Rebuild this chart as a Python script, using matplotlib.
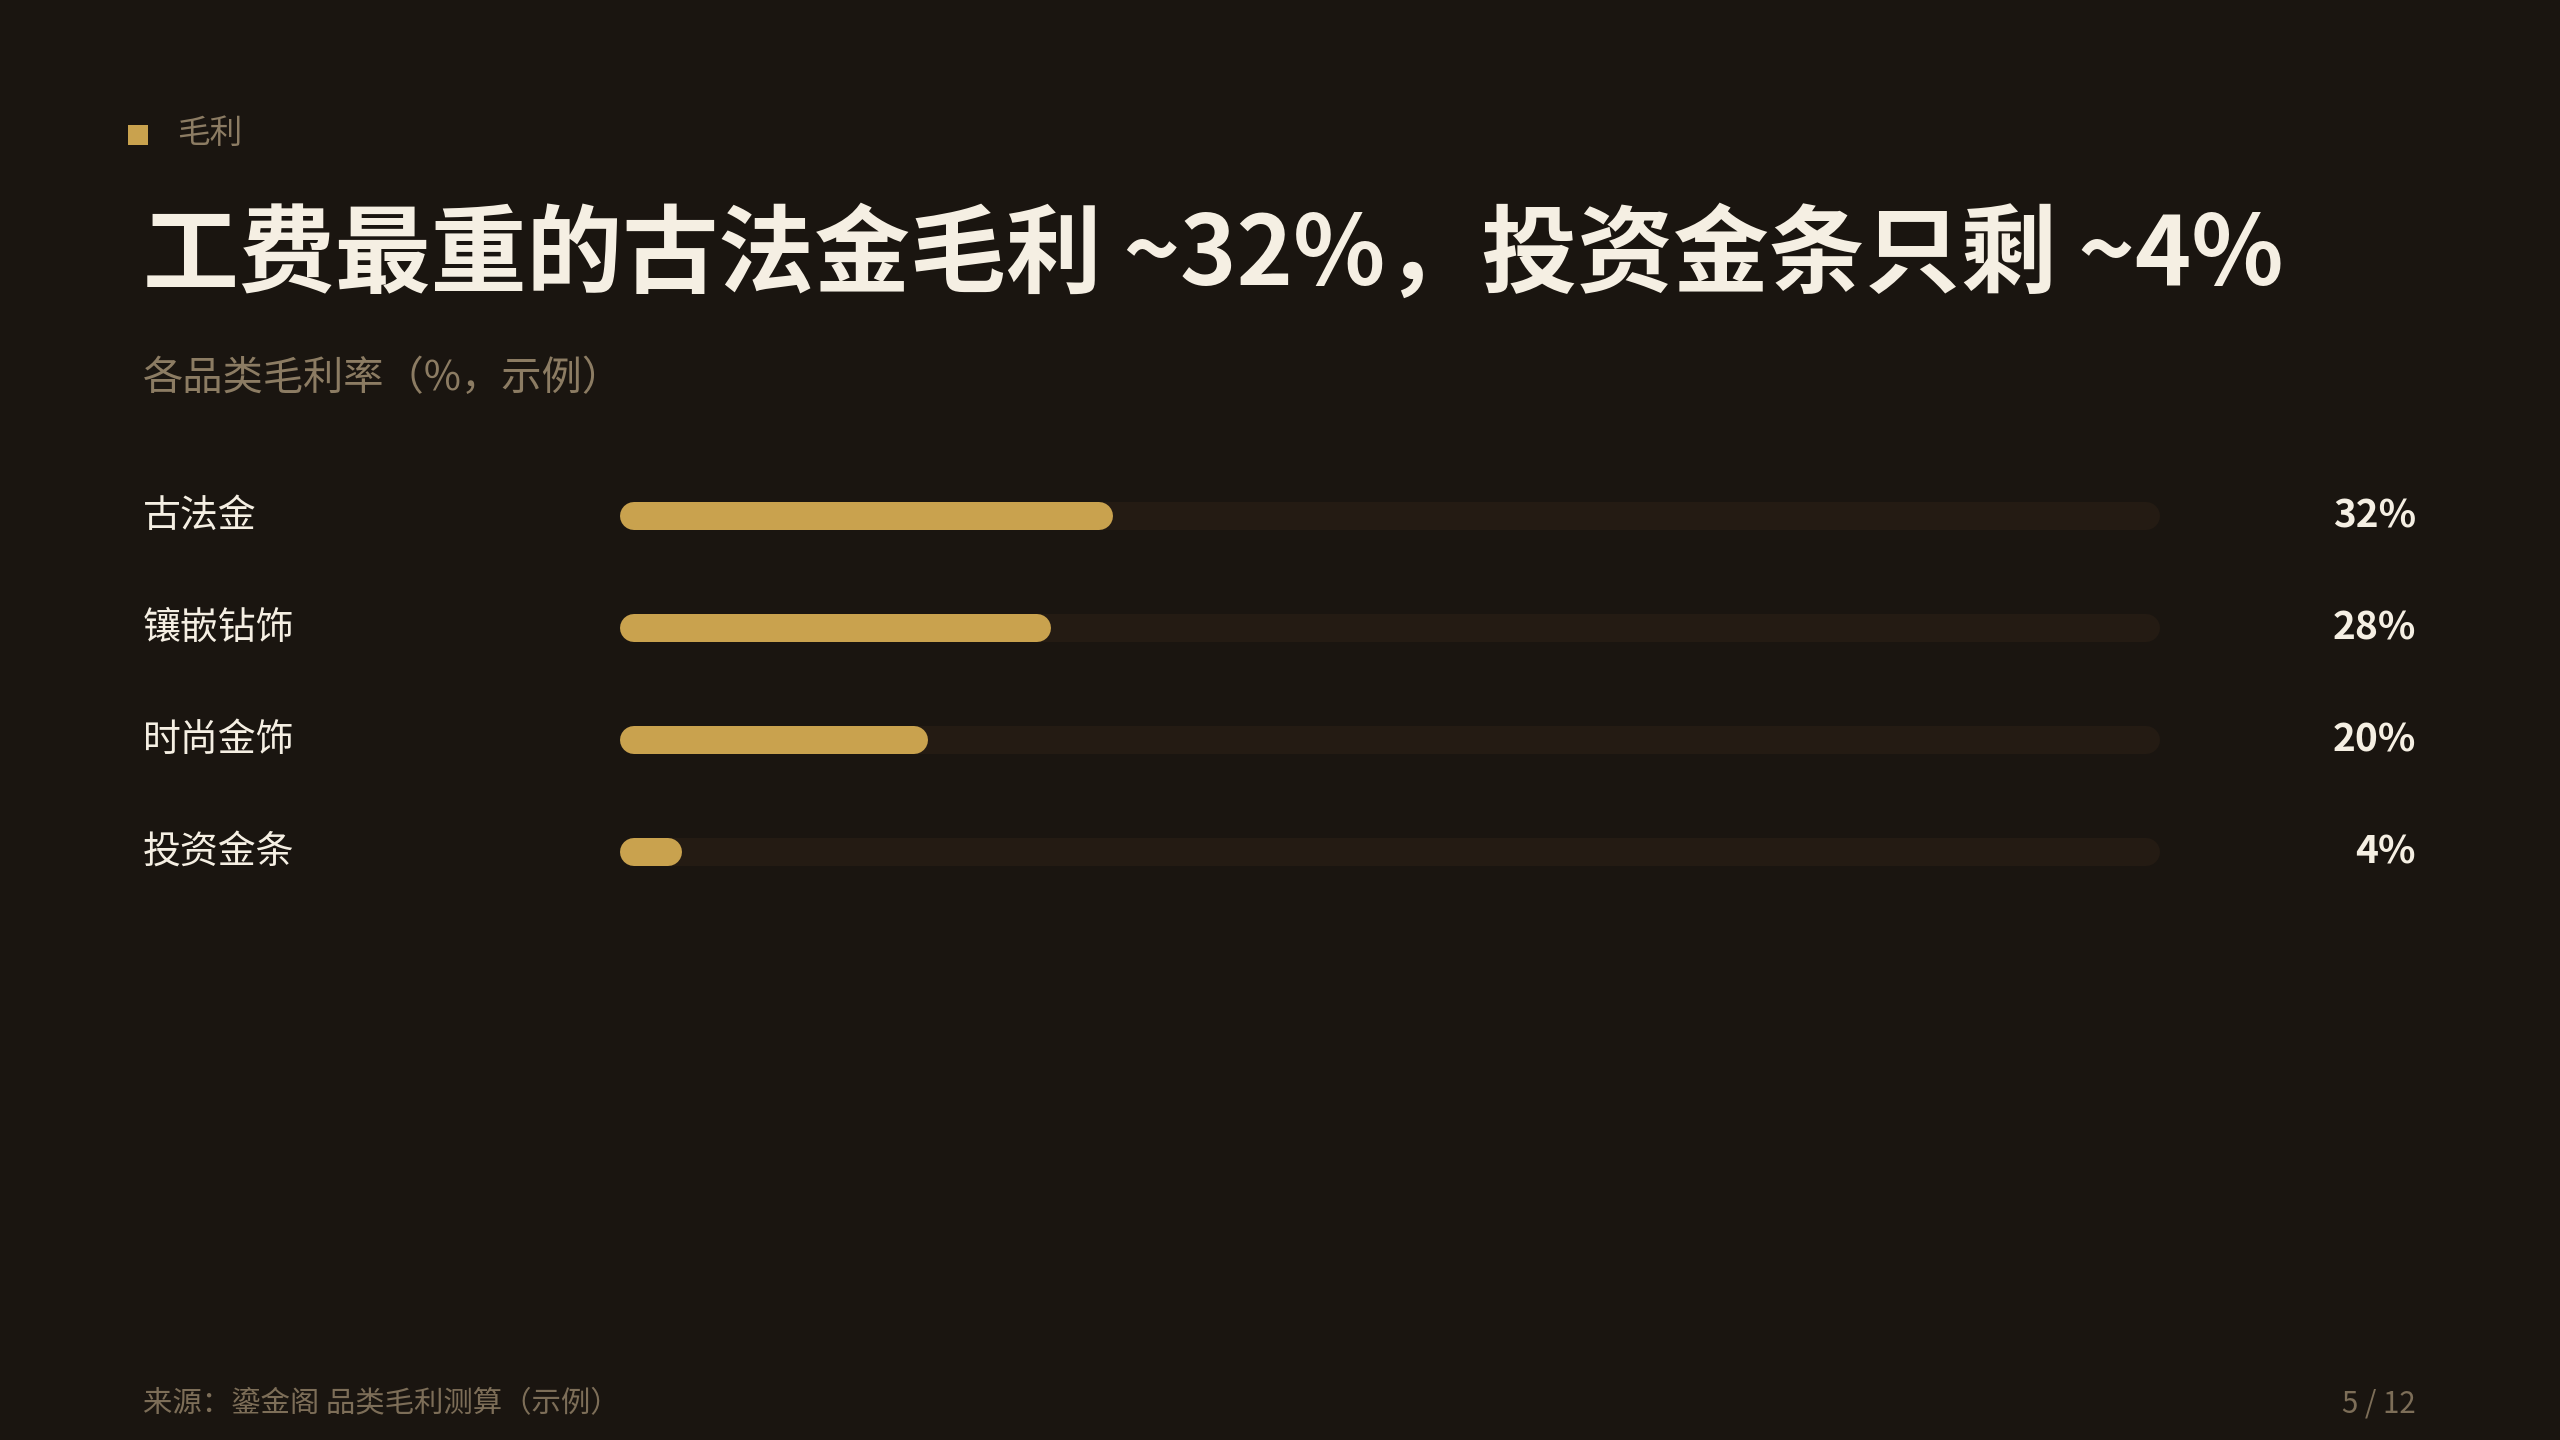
import matplotlib
matplotlib.use("Agg")
import matplotlib.pyplot as plt
from matplotlib.patches import Rectangle
from matplotlib.transforms import blended_transform_factory

plt.rcParams['font.family'] = ['Noto Sans CJK SC', 'DejaVu Sans']

# data
categories = ["古法金", "镶嵌钻饰", "时尚金饰", "投资金条"]
margins = [32, 28, 20, 4]
value_labels = ["32%", "28%", "20%", "4%"]
scale_max = 100

tag = "毛利"
title = "工费最重的古法金毛利 ~32%，投资金条只剩 ~4%"
subtitle = "各品类毛利率（%，示例）"
source = "来源：鎏金阁 品类毛利测算（示例）"
page = "5 / 12"

# colours
BG = "#1a1510"
GOLD = "#c9a24e"
TRACK = "#241b13"
CREAM = "#f5efe3"
MUTED = "#8c7c63"
FOOT = "#7d6e58"

W, H = 2560, 1440
fig = plt.figure(figsize=(W / 100, H / 100), dpi=100, facecolor=BG)

def fx(px):
    return px / W

def fy(py):
    return 1 - py / H

# header
fig.add_artist(Rectangle((fx(128), fy(145)), 20 / W, 20 / H, transform=fig.transFigure,
                         facecolor=GOLD, edgecolor="none"))
fig.text(fx(177), fy(134), tag, color=MUTED, fontsize=23.5, va="center", ha="left")
fig.text(fx(143), fy(257), title, color=CREAM, fontsize=69, fontweight="bold",
         va="center", ha="left")
fig.text(fx(143), fy(378), subtitle, color=MUTED, fontsize=29, va="center", ha="left")

# bars
bar_left, bar_right = 620, 2160
row_h = 112
first_y = 516
n = len(categories)
ax = fig.add_axes([fx(bar_left), fy(first_y + (n - 0.5) * row_h),
                   (bar_right - bar_left) / W, n * row_h / H])
ax.set_facecolor(BG)
ax.set_xlim(0, scale_max)
ax.set_ylim(n - 0.5, -0.5)
ax.axis("off")

bar_px = 28
lw = bar_px * 72 / 100
r = (bar_px / 2) / (bar_right - bar_left) * scale_max

trans = blended_transform_factory(fig.transFigure, ax.transData)
for i, (cat, v, lab) in enumerate(zip(categories, margins, value_labels)):
    ax.plot([r, scale_max - r], [i, i], color=TRACK, lw=lw, solid_capstyle="round")
    ax.plot([r, v - r], [i, i], color=GOLD, lw=lw, solid_capstyle="round")
    ax.text(fx(143), i, cat, transform=trans, color=CREAM, fontsize=27.3,
            va="center", ha="left")
    ax.text(fx(2416), i, lab, transform=trans, color=CREAM, fontsize=28,
            fontweight="bold", va="center", ha="right")

# footer
fig.text(fx(143), fy(1404), source, color=FOOT, fontsize=21.2, va="center", ha="left")
fig.text(fx(2416), fy(1404), page, color=FOOT, fontsize=21.2, va="center", ha="right")

fig.savefig("out.png", dpi=100, facecolor=BG)
